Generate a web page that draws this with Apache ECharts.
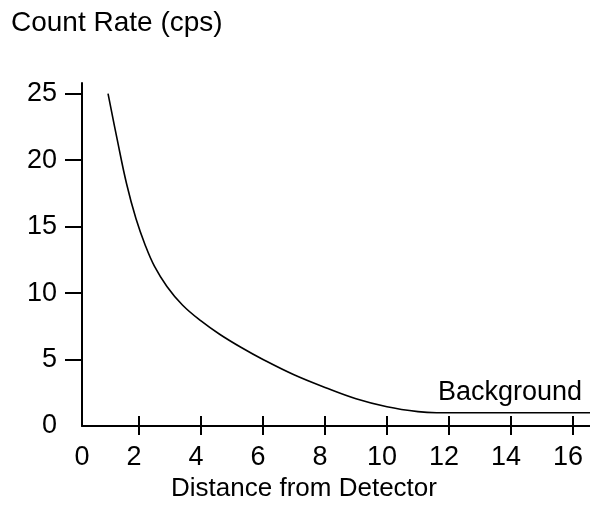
<!DOCTYPE html>
<html>
<head>
<meta charset="utf-8">
<script src="https://cdn.jsdelivr.net/npm/echarts@6/dist/echarts.min.js"></script>
<style>html,body{margin:0;padding:0;background:#fff}#c{width:590px;height:507px}</style>
</head>
<body>
<div id="c"></div>
<script>
const distance = [1, 1.3, 1.6, 1.9, 2.2, 2.5, 2.9, 3.4, 4, 4.6, 5.3, 6, 7, 8, 9, 10, 11, 11.6, 12.5, 14, 16.55];
const countRate = [25, 21.5, 18.2, 15.6, 13.6, 12.0, 10.5, 9.1, 7.9, 6.9, 5.9, 5.0, 3.85, 2.9, 2.05, 1.45, 1.08, 1.0, 1.0, 1.0, 1.0];
const xTicks = [2, 4, 6, 8, 10, 12, 14, 16];
const xLabels = [0.16, 2, 4, 6, 8, 10, 12, 14, 16];
const yTicks = [5, 10, 15, 20, 25];
const yLabels = [0, 5, 10, 15, 20, 25];
const yTitle = 'Count Rate (cps)';
const xTitle = 'Distance from Detector';
const noteText = 'Background';
const notePos = [13.97, 2.55];

const FONT = '"Liberation Sans", Arial, Helvetica, sans-serif';
const chart = echarts.init(document.getElementById('c'), null, {renderer: 'canvas'});
const xBase = {
  type: 'value', min: 0.16, max: 16.55, position: 'bottom',
  splitLine: {show: false}
};
const lblStyle = {fontFamily: FONT, fontSize: 27, color: '#000'};
chart.setOption({
  animation: false,
  backgroundColor: '#fff',
  title: {
    text: yTitle, left: 6, top: 4,
    textStyle: {fontFamily: FONT, fontSize: 28, fontWeight: 'normal', color: '#000'}
  },
  grid: {left: 82, right: 0, top: 83, bottom: 78, containLabel: false},
  xAxis: [
    Object.assign({}, xBase, {
      name: xTitle, nameLocation: 'middle', nameGap: 50,
      nameTextStyle: {fontFamily: FONT, fontSize: 26, color: '#000', padding: [0, 64, 0, 0]},
      axisLine: {show: true, lineStyle: {color: '#000', width: 2}},
      axisTick: {show: true, inside: false, length: 9, customValues: xTicks, lineStyle: {color: '#000', width: 2}},
      axisLabel: {show: true, customValues: xLabels, margin: 18, fontFamily: FONT, fontSize: 27, color: '#000',
        formatter: v => {
          const n = Math.round(v);
          return n === 0 ? '{z|0}' : '{n|' + n + '}';
        },
        rich: {
          z: Object.assign({}, lblStyle),
          n: Object.assign({padding: [0, 10, 0, 0]}, lblStyle)
        }
      }
    }),
    Object.assign({}, xBase, {
      axisLine: {show: false},
      axisTick: {show: true, inside: true, length: 10, customValues: xTicks, lineStyle: {color: '#000', width: 2}},
      axisLabel: {show: false}
    })
  ],
  yAxis: {
    type: 'value', min: 0, max: 25.8,
    splitLine: {show: false},
    axisLine: {show: true, lineStyle: {color: '#000', width: 2}},
    axisTick: {show: true, inside: false, length: 17, customValues: yTicks, lineStyle: {color: '#000', width: 2}},
    axisLabel: {show: true, customValues: yLabels, margin: 25, fontFamily: FONT, fontSize: 27, color: '#000'}
  },
  series: [{
    type: 'line',
    xAxisIndex: 0,
    data: distance.map((d, i) => [d, countRate[i]]),
    showSymbol: false,
    smooth: 0.4,
    clip: false,
    lineStyle: {color: '#000', width: 1.6},
    markPoint: {
      symbol: 'rect', symbolSize: 0, silent: true,
      label: {show: true, position: 'inside', formatter: noteText, fontFamily: FONT, fontSize: 27, color: '#000'},
      data: [{coord: notePos}]
    }
  }]
});
</script>
</body>
</html>
